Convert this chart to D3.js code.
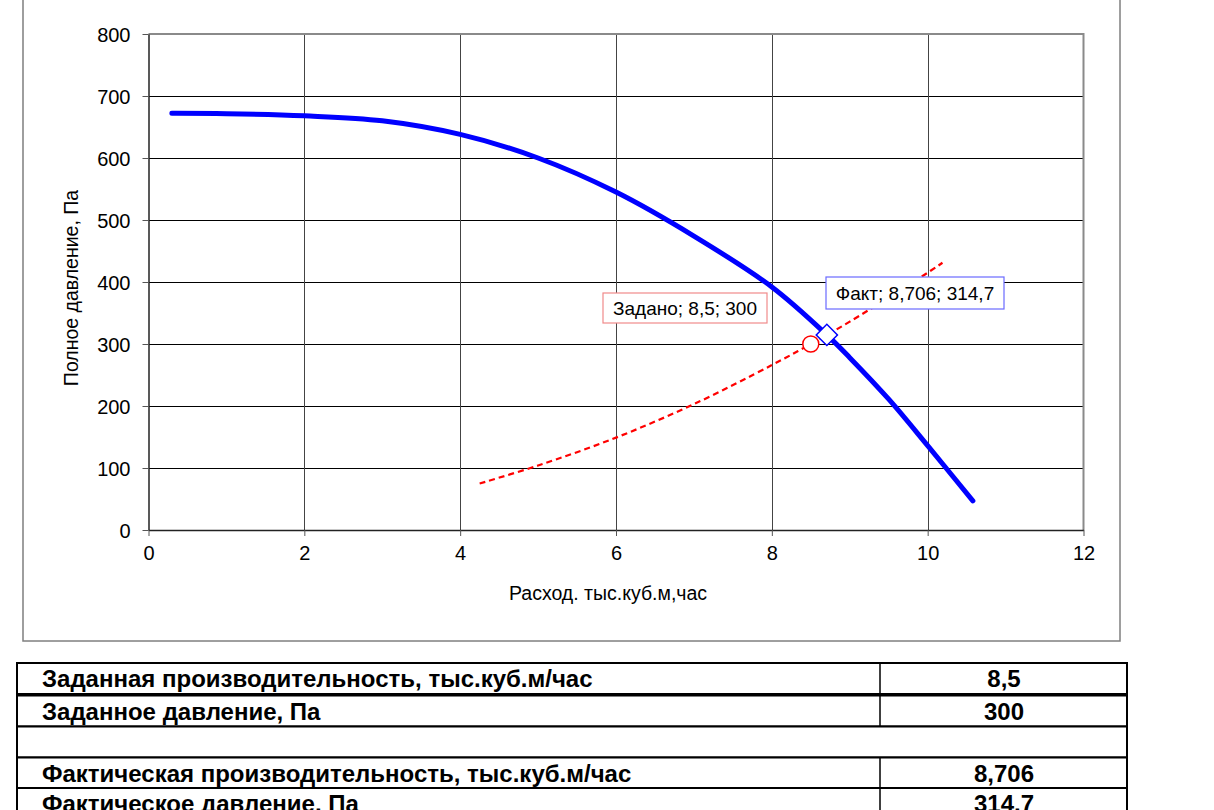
<!DOCTYPE html>
<html><head><meta charset="utf-8">
<script src="https://cdn.jsdelivr.net/npm/d3@7"></script>
<style>html,body{margin:0;padding:0;background:#fff;} svg{display:block;font-family:"Liberation Sans",Arial,sans-serif;}</style>
</head><body>
<svg id="c" width="1214" height="810"></svg>
<script>
// Fan characteristic (blue)
const fanFlow = [0.3, 1, 2, 3, 4, 5, 6, 7, 8, 8.706, 9, 9.5, 10, 10.58];
const fanPressure = [672, 671.5, 668, 660, 638, 600, 545, 474, 392, 314.7, 278, 211, 136, 47];
// Network characteristic (red dashed)
const netFlow = [4.25, 5, 6, 7, 8, 8.5, 9, 10, 10.19];
const netPressure = [75, 104, 149, 203, 266, 300, 336, 415, 431];
// Points
const setPoint = {name: "Задано", x: 8.5, y: 300, label: "Задано; 8,5; 300"};
const factPoint = {name: "Факт", x: 8.706, y: 314.7, label: "Факт; 8,706; 314,7"};
const xTicks = [0, 2, 4, 6, 8, 10, 12];
const yTicks = [0, 100, 200, 300, 400, 500, 600, 700, 800];
const xTitle = "Расход. тыс.куб.м,час";
const yTitle = "Полное давление, Па";
const tableLabels = ["Заданная производительность, тыс.куб.м/час", "Заданное давление, Па", "", "Фактическая производительность, тыс.куб.м/час", "Фактическое давление, Па"];
const tableValues = ["8,5", "300", "", "8,706", "314,7"];

const svg = d3.select("#c");
const x = d3.scaleLinear().domain([0, 12]).range([148.5, 1083.5]);
const y = d3.scaleLinear().domain([0, 800]).range([530, 34]);
const px = v => Math.round(v) + 0.5;

// outer chart frame
svg.append("rect").attr("x", 23).attr("y", -10).attr("width", 1097).attr("height", 651)
  .attr("fill", "none").attr("stroke", "#7f7f7f").attr("stroke-width", 1.5);

// gridlines
const g = svg.append("g").attr("shape-rendering", "crispEdges");
g.selectAll(".hg").data(yTicks.filter(d => d > 0 && d < 800)).join("line")
  .attr("x1", x(0)).attr("x2", x(12)).attr("y1", d => px(y(d))).attr("y2", d => px(y(d)))
  .attr("stroke", "#000").attr("stroke-width", 1);
g.selectAll(".vg").data(xTicks.filter(d => d > 0 && d < 12)).join("line")
  .attr("y1", y(0)).attr("y2", y(800)).attr("x1", d => px(x(d))).attr("x2", d => px(x(d)))
  .attr("stroke", "#444").attr("stroke-width", 1);
// plot border top/right
svg.append("path").attr("d", `M${x(0)},${y(800)}H${x(12)}V${y(0)}`)
  .attr("fill", "none").attr("stroke", "#8a8a8a").attr("stroke-width", 2);

// axes
const xAxis = d3.axisBottom(x).tickValues(xTicks).tickSize(6).tickSizeOuter(0).tickPadding(10);
const yAxis = d3.axisLeft(y).tickValues(yTicks).tickSize(6).tickSizeOuter(0).tickPadding(12);
const gx = svg.append("g").attr("transform", `translate(0,${y(0)})`).call(xAxis);
const gy = svg.append("g").attr("transform", `translate(${x(0)},0)`).call(yAxis);
[gx, gy].forEach(a => {
  a.select(".domain").attr("stroke", "#222").attr("stroke-width", 1.5);
  a.selectAll(".tick line").attr("stroke", "#555");
  a.selectAll("text").attr("font-size", 20).attr("fill", "#000").attr("font-family", "'Liberation Sans', Arial, sans-serif");
});
gx.selectAll("text").attr("dy", "0.71em");
gy.selectAll("text").attr("dy", "0.35em");

// axis titles
svg.append("text").attr("x", 608).attr("y", 600).attr("text-anchor", "middle")
  .attr("font-size", 19.5).text(xTitle);
svg.append("text").attr("transform", "translate(78,288) rotate(-90)").attr("text-anchor", "middle")
  .attr("font-size", 19.5).text(yTitle);

// lines
const line = d3.line().curve(d3.curveCatmullRom.alpha(0.5));
svg.append("path").attr("d", line(netFlow.map((d, i) => [x(d), y(netPressure[i])])))
  .attr("fill", "none").attr("stroke", "#ff0000").attr("stroke-width", 2.2).attr("stroke-dasharray", "6,4");
svg.append("path").attr("d", line(fanFlow.map((d, i) => [x(d), y(fanPressure[i])])))
  .attr("fill", "none").attr("stroke", "#0000ff").attr("stroke-width", 5).attr("stroke-linecap", "round");

// markers
svg.append("circle").attr("cx", x(setPoint.x)).attr("cy", y(setPoint.y)).attr("r", 8)
  .attr("fill", "#fff").attr("stroke", "#ff0000").attr("stroke-width", 1.5);
svg.append("path").attr("transform", `translate(${x(factPoint.x)},${y(factPoint.y)}) rotate(45)`)
  .attr("d", "M-7.5,-7.5H7.5V7.5H-7.5Z").attr("fill", "#fff").attr("stroke", "#0000ff").attr("stroke-width", 1.5);

// data labels
function label(txt, lx, ly, w, h, stroke) {
  svg.append("rect").attr("x", lx).attr("y", ly).attr("width", w).attr("height", h)
    .attr("fill", "#fff").attr("stroke", stroke).attr("stroke-width", 1.2);
  svg.append("text").attr("x", lx + w / 2).attr("y", ly + h / 2).attr("dy", "0.35em")
    .attr("text-anchor", "middle").attr("font-size", 19).text(txt);
}
label(setPoint.label, 603, 293, 164, 30, "#f08a8a");
label(factPoint.label, 826, 277, 178, 32, "#6a6aff");

// table
const rowTops = [663, 695.5, 726.5, 757.5, 788];
const rowH = 31;
const tg = svg.append("g");
tableLabels.forEach((t, i) => {
  const top = rowTops[i];
  tg.append("rect").attr("x", 17).attr("y", top).attr("width", 1110).attr("height", rowH)
    .attr("fill", "#fff").attr("stroke", "#000").attr("stroke-width", 2);
  if (i !== 2) {
    tg.append("line").attr("x1", 880).attr("x2", 880).attr("y1", top).attr("y2", top + rowH)
      .attr("stroke", "#000").attr("stroke-width", 1.5);
  }
  tg.append("text").attr("x", 42).attr("y", top + rowH / 2).attr("dy", "0.36em")
    .attr("font-size", 24).attr("font-weight", "bold").text(t);
  tg.append("text").attr("x", 1004).attr("y", top + rowH / 2).attr("dy", "0.36em")
    .attr("text-anchor", "middle").attr("font-size", 24).attr("font-weight", "bold").text(tableValues[i]);
});
</script>
</body></html>
